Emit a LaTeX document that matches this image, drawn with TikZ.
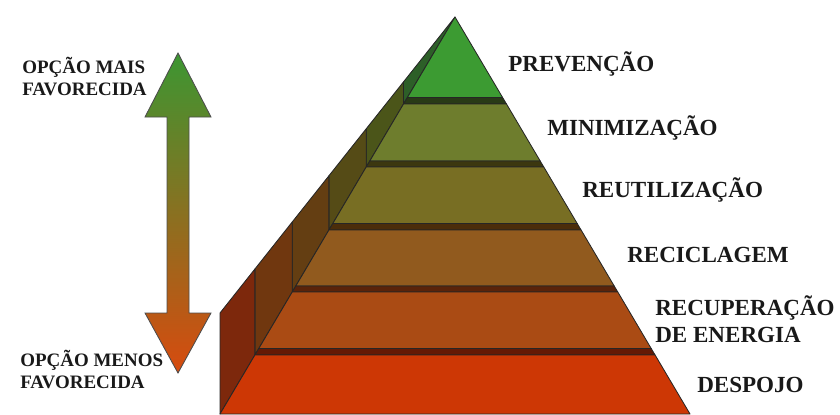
\documentclass[tikz,border=0pt]{standalone}
\usepackage{fontspec}
\setmainfont{Liberation Serif}
\usepackage{tikz}

\definecolor{lvlA}{RGB}{60,155,50}
\definecolor{lvlB}{RGB}{110,125,45}
\definecolor{lvlC}{RGB}{120,110,35}
\definecolor{lvlD}{RGB}{145,90,30}
\definecolor{lvlE}{RGB}{170,75,20}
\definecolor{lvlF}{RGB}{205,55,5}
\definecolor{stripA}{RGB}{40,58,22}
\definecolor{stripB}{RGB}{60,55,15}
\definecolor{stripC}{RGB}{75,45,10}
\definecolor{stripD}{RGB}{90,35,10}
\definecolor{stripE}{RGB}{100,25,5}
\definecolor{sideA}{RGB}{45,95,40}
\definecolor{sideB}{RGB}{75,85,25}
\definecolor{sideC}{RGB}{85,75,22}
\definecolor{sideD}{RGB}{100,62,18}
\definecolor{sideE}{RGB}{112,55,15}
\definecolor{sideF}{RGB}{125,40,12}
\definecolor{arrtop}{RGB}{60,150,50}
\definecolor{arrbot}{RGB}{215,75,15}

\tikzset{
face/.style={draw=black!85, line width=0.6pt, line join=round},
lbl/.style={font=\bfseries\fontsize{16.4}{19.1}\selectfont, text=black!90, anchor=base west, inner sep=0pt, align=left},
sidelbl/.style={font=\bfseries\fontsize{13.5}{15}\selectfont, text=black!90, anchor=base west, inner sep=0pt, align=left}}

\begin{document}
\begin{tikzpicture}[x=0.025cm,y=-0.025cm]
    \useasboundingbox (0,0) rectangle (840,414);

                \draw[face, fill=sideA] (455,17) -- (403.5,104) -- (403.5,81.9) -- cycle;
                \draw[face, fill=sideB] (403.5,104) -- (366.2,167) -- (366.2,128.8) -- (403.5,81.9) -- cycle;
                \draw[face, fill=sideC] (366.2,167) -- (328.9,230) -- (328.9,175.8) -- (366.2,128.8) -- cycle;
                \draw[face, fill=sideD] (328.9,230) -- (292.2,292) -- (292.2,222) -- (328.9,175.8) -- cycle;
                \draw[face, fill=sideE] (292.2,292) -- (254.9,355) -- (254.9,269) -- (292.2,222) -- cycle;
                \draw[face, fill=sideF] (254.9,355) -- (220,414) -- (220,313) -- (254.9,269) -- cycle;

                \draw[face, fill=lvlA] (455,17) -- (502.6,97.5) -- (407.4,97.5) -- cycle;
                \draw[face, fill=stripA] (407.4,97.5) -- (502.6,97.5) -- (506.5,104) -- (403.5,104) -- cycle;
                \draw[face, fill=lvlB] (403.5,104) -- (506.5,104) -- (540.2,161) -- (369.8,161) -- cycle;
                \draw[face, fill=stripB] (369.8,161) -- (540.2,161) -- (543.8,167) -- (366.2,167) -- cycle;
                \draw[face, fill=lvlC] (366.2,167) -- (543.8,167) -- (577.2,223.5) -- (332.8,223.5) -- cycle;
                \draw[face, fill=stripC] (332.8,223.5) -- (577.2,223.5) -- (581.1,230) -- (328.9,230) -- cycle;
                \draw[face, fill=lvlD] (328.9,230) -- (581.1,230) -- (614.2,286) -- (295.8,286) -- cycle;
                \draw[face, fill=stripD] (295.8,286) -- (614.2,286) -- (617.8,292) -- (292.2,292) -- cycle;
                \draw[face, fill=lvlE] (292.2,292) -- (617.8,292) -- (651.2,348.5) -- (258.8,348.5) -- cycle;
                \draw[face, fill=stripE] (258.8,348.5) -- (651.2,348.5) -- (655.1,355) -- (254.9,355) -- cycle;
                \draw[face, fill=lvlF] (254.9,355) -- (655.1,355) -- (690,414) -- (220,414) -- cycle;

                \shadedraw[top color=arrtop, bottom color=arrbot, draw=black!70, line width=0.6pt] (178,53) -- (211,117) -- (189,117) -- (189,313) -- (211,313) -- (178,373) -- (145,313) -- (167,313) -- (167,117) -- (145,117) -- cycle;

                \node[lbl] (prev) at (508,71) {PREVENÇÃO};
                \node[lbl] (mini) at (547,135) {MINIMIZAÇÃO};
                \node[lbl] (reut) at (582,197) {REUTILIZAÇÃO};
                \node[lbl] (recic) at (627,262) {RECICLAGEM};
                \node[lbl] (recup) at (655,342) {RECUPERAÇÃO\\DE ENERGIA};
                \node[lbl] (desp) at (697,392) {DESPOJO};
                \node[sidelbl] (mais) at (22,95) {OPÇÃO MAIS\\FAVORECIDA};
                \node[sidelbl] (menos) at (20,388) {OPÇÃO MENOS\\FAVORECIDA};

            \end{tikzpicture}
\end{document}
